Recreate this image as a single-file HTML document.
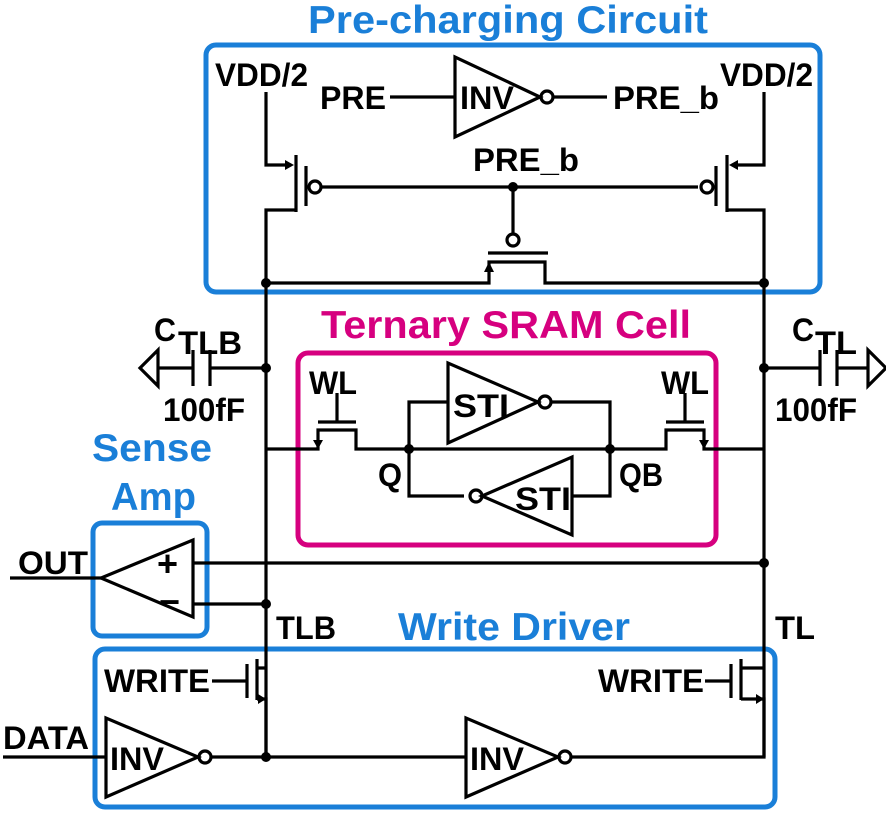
<!DOCTYPE html>
<html><head><meta charset="utf-8"><style>
html,body{margin:0;padding:0;background:#fff;}
svg{display:block;}
text{font-family:"Liberation Sans",sans-serif;font-weight:bold;}
</style></head><body>
<svg width="886" height="815" viewBox="0 0 886 815" xmlns="http://www.w3.org/2000/svg">
<g fill="none" stroke-linejoin="miter">
<rect x="206" y="45" width="614" height="247" rx="10" stroke="#1a7fd8" stroke-width="5"/>
<rect x="298" y="353" width="418" height="192" rx="10" stroke="#d6007f" stroke-width="5"/>
<rect x="93" y="523" width="114" height="113" rx="9" stroke="#1a7fd8" stroke-width="5"/>
<rect x="95" y="649" width="680" height="158" rx="10" stroke="#1a7fd8" stroke-width="5"/>
</g>
<g fill="none" stroke="#000" stroke-width="3.2">
<path d="M266 92 V165 H290"/>
<path d="M296 155 V212"/>
<path d="M306 166 V206"/>
<path d="M296 210 H266 V757"/>
<circle cx="315" cy="187" r="6"/>
<path d="M321 187 H698"/>
<circle cx="707" cy="187" r="6"/>
<path d="M764 92 V165 H733"/>
<path d="M727 155 V212"/>
<path d="M716 166 V206"/>
<path d="M727 210 H764 V757"/>
<path d="M513 187 V234"/>
<circle cx="513" cy="240" r="6"/>
<path d="M488 253 H548"/>
<path d="M266 283 H489 V262 H545 V283 H764"/>
<path d="M390 97 H455"/>
<path d="M455 57 V137 L540 97 Z"/>
<circle cx="547" cy="97" r="6"/>
<path d="M553 97 H607"/>
<path d="M158 350 L140 368 L158 386 Z"/>
<path d="M158 368 H192 M193 350 V386 M210 350 V386 M211 368 H266"/>
<path d="M868 350 L886 368 L868 386 Z"/>
<path d="M868 368 H838 M837 350 V386 M820 350 V386 M819 368 H764"/>
<path d="M266 449 H318 V430 H356 V449 H610"/>
<path d="M318 422 H356 M337 422 V393"/>
<path d="M409 449 V402 H448 M409 449 V496 H464"/>
<path d="M448 363 V443 L538 402 Z"/>
<circle cx="545" cy="402" r="6"/>
<path d="M551 402 H610 V496 H572"/>
<path d="M572 457 V535 L482 496 Z"/>
<circle cx="476" cy="496" r="6"/>
<path d="M610 449 H666 V430 H704 V449 H764"/>
<path d="M666 422 H704 M685 422 V393"/>
<path d="M193 540 V617 L101 578 Z"/>
<path d="M10 578 H101"/>
<path d="M193 563 H764"/>
<path d="M193 604 H266"/>
<path d="M266 668 H257 M257 659 V700 M247 664 V698 M212 681 H247 M257 699 H266 V757"/>
<path d="M764 668 H741 M741 659 V700 M731 664 V698 M705 681 H731 M741 699 H764 V757 H572"/>
<path d="M3 757 H106"/>
<path d="M106 718 V797 L198 757 Z"/>
<circle cx="205" cy="757" r="6"/>
<path d="M211 757 H466"/>
<path d="M466 718 V797 L558 757 Z"/>
<circle cx="565" cy="757" r="6"/>
</g>
<g fill="#000">
<path d="M294 165 L285 160 L285 170 Z"/>
<path d="M729 165 L738 160 L738 170 Z"/>
<path d="M489 262 L484 272 L494 272 Z"/>
<path d="M318 449 L313 440 L323 440 Z"/>
<path d="M704 449 L699 440 L709 440 Z"/>
<path d="M266 699 L258 694 L258 704 Z"/>
<path d="M764 699 L756 694 L756 704 Z"/>
<circle cx="513" cy="187" r="5"/>
<circle cx="266" cy="283" r="5"/>
<circle cx="764" cy="283" r="5"/>
<circle cx="266" cy="368" r="5"/>
<circle cx="764" cy="368" r="5"/>
<circle cx="409" cy="449" r="5"/>
<circle cx="610" cy="449" r="5"/>
<circle cx="764" cy="563" r="5"/>
<circle cx="266" cy="604" r="5"/>
<circle cx="266" cy="757" r="5"/>
</g>
<g font-size="32" fill="#000">
<text x="215" y="86" textLength="93" lengthAdjust="spacingAndGlyphs">VDD/2</text>
<text x="720" y="86" textLength="93" lengthAdjust="spacingAndGlyphs">VDD/2</text>
<text x="320" y="109" textLength="66" lengthAdjust="spacingAndGlyphs">PRE</text>
<text x="460" y="109" textLength="54" lengthAdjust="spacingAndGlyphs">INV</text>
<text x="613" y="109" textLength="106" lengthAdjust="spacingAndGlyphs">PRE_b</text>
<text x="473" y="171" textLength="106" lengthAdjust="spacingAndGlyphs">PRE_b</text>
<text x="154" y="341" textLength="22" lengthAdjust="spacingAndGlyphs">C</text><text x="178" y="354" textLength="64" lengthAdjust="spacingAndGlyphs">TLB</text>
<text x="163" y="421" textLength="82" lengthAdjust="spacingAndGlyphs">100fF</text>
<text x="792" y="341" textLength="22" lengthAdjust="spacingAndGlyphs">C</text><text x="815" y="354" textLength="42" lengthAdjust="spacingAndGlyphs">TL</text>
<text x="775" y="421" textLength="82" lengthAdjust="spacingAndGlyphs">100fF</text>
<text x="309" y="394" textLength="48" lengthAdjust="spacingAndGlyphs">WL</text>
<text x="661" y="394" textLength="48" lengthAdjust="spacingAndGlyphs">WL</text>
<text x="453" y="417" textLength="56" lengthAdjust="spacingAndGlyphs">STI</text>
<text x="515" y="510" textLength="56" lengthAdjust="spacingAndGlyphs">STI</text>
<text x="378" y="486" textLength="24" lengthAdjust="spacingAndGlyphs">Q</text>
<text x="619" y="486" textLength="44" lengthAdjust="spacingAndGlyphs">QB</text>
<text x="18" y="574" textLength="70" lengthAdjust="spacingAndGlyphs">OUT</text>
<text x="157" y="576" font-size="36">+</text>
<text x="159" y="614" font-size="36">−</text>
<text x="276" y="639" textLength="60" lengthAdjust="spacingAndGlyphs">TLB</text>
<text x="775" y="639" textLength="40" lengthAdjust="spacingAndGlyphs">TL</text>
<text x="104" y="692" textLength="106" lengthAdjust="spacingAndGlyphs">WRITE</text>
<text x="598" y="692" textLength="106" lengthAdjust="spacingAndGlyphs">WRITE</text>
<text x="3" y="749" textLength="86" lengthAdjust="spacingAndGlyphs">DATA</text>
<text x="110" y="770" textLength="54" lengthAdjust="spacingAndGlyphs">INV</text>
<text x="470" y="770" textLength="54" lengthAdjust="spacingAndGlyphs">INV</text>
</g>
<g font-size="39">
<text x="308" y="33" fill="#1a7fd8" textLength="400" lengthAdjust="spacingAndGlyphs">Pre-charging Circuit</text>
<text x="321" y="338" fill="#d6007f" textLength="370" lengthAdjust="spacingAndGlyphs">Ternary SRAM Cell</text>
<text x="92" y="461" fill="#1a7fd8" textLength="120" lengthAdjust="spacingAndGlyphs">Sense</text>
<text x="111" y="510" fill="#1a7fd8" textLength="85" lengthAdjust="spacingAndGlyphs">Amp</text>
<text x="398" y="640" fill="#1a7fd8" textLength="232" lengthAdjust="spacingAndGlyphs">Write Driver</text>
</g>
</svg>
</body></html>
